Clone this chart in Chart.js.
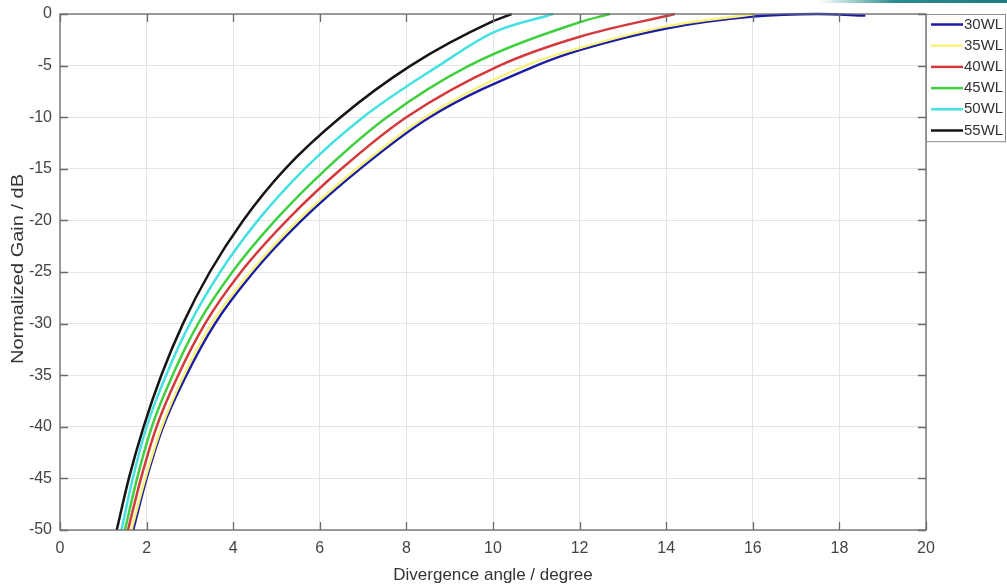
<!DOCTYPE html>
<html>
<head>
<meta charset="utf-8">
<script src="https://cdn.jsdelivr.net/npm/chart.js@4.4.0/dist/chart.umd.min.js"></script>
<style>
  html, body { margin: 0; padding: 0; background: #fff; }
  #wrap { position: relative; width: 1007px; height: 588px; }
  #band { position: absolute; left: 820px; top: 0; width: 187px; height: 3px;
          background: linear-gradient(to right, rgba(40,140,140,0), #2a8c8c 40%, #1f7a7a); }
</style>
</head>
<body>
<div id="wrap">
  <canvas id="gainChart" width="1007" height="588"></canvas>
  <div id="band"></div>
</div>
<script>
// series labels and colours
const labels = ["30WL", "35WL", "40WL", "45WL", "50WL", "55WL"];
const colors = ["#1c1ca6", "#f7f27c", "#d4393b", "#3fcf3f", "#45e0e0", "#151515"];

// divergence angle (degree) / normalized gain (dB)
const angle30 = [1.69, 2.0, 2.38, 2.92, 3.58, 4.47, 5.58, 6.93, 8.54, 11.0, 12.0, 14.0, 16.0, 17.5, 18.6];
const gain30  = [-50, -45, -40, -35, -30, -25, -20, -15, -10, -5, -3.5, -1.4, -0.25, 0, -0.15];

const angle35 = [1.65, 1.97, 2.35, 2.86, 3.5, 4.4, 5.5, 6.85, 8.43, 10.75, 12.0, 14.0, 16.05];
const gain35  = [-50, -45, -40, -35, -30, -25, -20, -15, -10, -5, -3.3, -1.2, 0];

const angle40 = [1.57, 1.87, 2.23, 2.73, 3.35, 4.18, 5.24, 6.5, 8.0, 10.15, 12.0, 14.2];
const gain40  = [-50, -45, -40, -35, -30, -25, -20, -15, -10, -5, -2.2, 0];

const angle45 = [1.5, 1.78, 2.12, 2.6, 3.19, 3.98, 4.97, 6.15, 7.55, 9.45, 12.0, 12.7];
const gain45  = [-50, -45, -40, -35, -30, -25, -20, -15, -10, -5, -0.8, 0];

const angle50 = [1.42, 1.68, 2.0, 2.45, 3.0, 3.7, 4.57, 5.65, 7.0, 8.75, 10.0, 11.39];
const gain50  = [-50, -45, -40, -35, -30, -25, -20, -15, -10, -5, -1.8, 0];

const angle55 = [1.31, 1.59, 1.93, 2.34, 2.84, 3.46, 4.23, 5.2, 6.48, 8.1, 10.0, 10.43];
const gain55  = [-50, -45, -40, -35, -30, -25, -20, -15, -10, -5, -0.7, 0];

const angles = [angle30, angle35, angle40, angle45, angle50, angle55];
const gains = [gain30, gain35, gain40, gain45, gain50, gain55];

const xTicks = [0, 2, 4, 6, 8, 10, 12, 14, 16, 18, 20];
const yTicks = [0, -5, -10, -15, -20, -25, -30, -35, -40, -45, -50];

const font = "'Liberation Sans', Arial, sans-serif";

const datasets = labels.map((lab, i) => ({
  label: lab,
  data: angles[i].map((a, j) => ({ x: a, y: gains[i][j] })),
  borderColor: colors[i],
  backgroundColor: colors[i],
  borderWidth: 2.5,
  pointRadius: 0,
  showLine: true,
  cubicInterpolationMode: "monotone",
  clip: false,
  order: labels.length - i
}));

// box, inward ticks, y title and legend in the MATLAB style
const frame = {
  id: "frame",
  afterDatasetsDraw(chart) {
    const { ctx, chartArea: a, scales } = chart;
    ctx.save();
    ctx.strokeStyle = "#6b6b6b";
    ctx.lineWidth = 1.3;
    ctx.strokeRect(a.left, a.top, a.right - a.left, a.bottom - a.top);
    ctx.beginPath();
    xTicks.forEach(v => {
      const px = Math.round(scales.x.getPixelForValue(v)) + 0.5;
      ctx.moveTo(px, a.bottom); ctx.lineTo(px, a.bottom - 8);
      ctx.moveTo(px, a.top); ctx.lineTo(px, a.top + 8);
    });
    yTicks.forEach(v => {
      const py = Math.round(scales.y.getPixelForValue(v)) + 0.5;
      ctx.moveTo(a.left, py); ctx.lineTo(a.left + 8, py);
      ctx.moveTo(a.right, py); ctx.lineTo(a.right - 8, py);
    });
    ctx.stroke();

    // y axis title, slightly stretched like the source image
    ctx.save();
    ctx.translate(19, (a.top + a.bottom) / 2 - 3);
    ctx.rotate(-Math.PI / 2);
    ctx.scale(1.25, 1);
    ctx.font = "16px " + font;
    ctx.fillStyle = "#333";
    ctx.textAlign = "center";
    ctx.textBaseline = "middle";
    ctx.fillText("Normalized Gain / dB", 0, 0);
    ctx.restore();

    // legend
    const lx = a.right, ly = a.top, lw = 79, rowH = 21.2;
    const lh = rowH * labels.length;
    ctx.fillStyle = "#fff";
    ctx.fillRect(lx, ly, lw, lh);
    ctx.strokeStyle = "#8a8a8a";
    ctx.lineWidth = 1;
    ctx.strokeRect(lx + 0.5, ly + 0.5, lw, lh);
    ctx.font = "15px " + font;
    ctx.textBaseline = "middle";
    chart.data.datasets.forEach((d, i) => {
      const cy = ly + 10.5 + i * rowH;
      ctx.strokeStyle = d.borderColor;
      ctx.lineWidth = 2.5;
      ctx.beginPath();
      ctx.moveTo(lx + 5, cy); ctx.lineTo(lx + 37, cy);
      ctx.stroke();
      ctx.fillStyle = "#333";
      ctx.fillText(d.label, lx + 38, cy);
    });
    ctx.restore();
  }
};

new Chart(document.getElementById("gainChart"), {
  type: "scatter",
  data: { datasets: datasets },
  options: {
    responsive: false,
    animation: false,
    layout: { padding: { top: 14, right: 81, left: 0, bottom: 0 } },
    plugins: { legend: { display: false }, tooltip: { enabled: false } },
    scales: {
      x: {
        type: "linear",
        min: 0, max: 20,
        afterBuildTicks: s => { s.ticks = xTicks.map(v => ({ value: v })); },
        afterFit: s => { s.height = 58; s.paddingLeft = 0; s.paddingRight = 0; },
        grid: { color: "#e4e4e4", drawTicks: false },
        border: { display: false },
        ticks: { color: "#444", padding: 9, font: { family: font, size: 16 } },
        title: { display: true, text: "Divergence angle / degree", color: "#333",
                 padding: { top: 0, bottom: 2 }, font: { family: font, size: 17 } }
      },
      y: {
        type: "linear",
        min: -50, max: 0,
        afterBuildTicks: s => { s.ticks = yTicks.map(v => ({ value: v })); },
        afterFit: s => { s.width = 60; s.paddingTop = 0; s.paddingBottom = 0; },
        grid: { color: "#e4e4e4", drawTicks: false },
        border: { display: false },
        ticks: { color: "#444", padding: 8, font: { family: font, size: 16 } }
      }
    }
  },
  plugins: [frame]
});
</script>
</body>
</html>
